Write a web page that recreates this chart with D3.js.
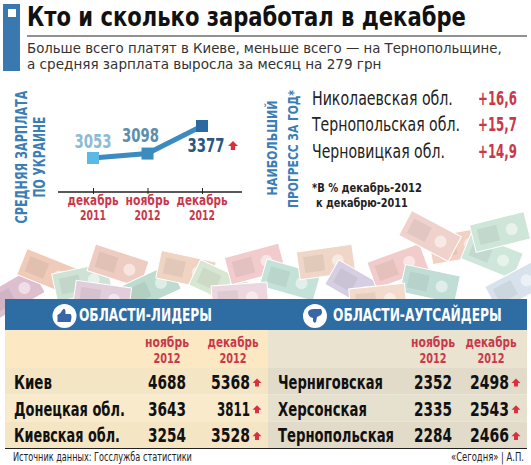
<!DOCTYPE html>
<html>
<head>
<meta charset="utf-8">
<script src="https://cdn.jsdelivr.net/npm/d3@7"></script>
<style>
  html, body { margin: 0; padding: 0; background: #fff; }
  svg { display: block; }
  .cond { font-family: "Liberation Sans Narrow", "DejaVu Sans Condensed", "Roboto Condensed", sans-serif; }
</style>
</head>
<body>
<svg id="chart" width="531" height="465"></svg>
<script>
// chart data
let months = ["декабрь|2011", "ноябрь|2012", "декабрь|2012"];
let avgSalary = [3053, 3098, 3377];

let progressRegions = ["Николаевская обл.", "Тернопольская обл.", "Черновицкая обл."];
let progressValues = [16.6, 15.7, 14.9];

let tableCols = ["ноябрь|2012", "декабрь|2012"];
let leaderRegions = ["Киев", "Донецкая обл.", "Киевская обл."];
let leaderNov = [4688, 3643, 3254];
let leaderDec = [5368, 3811, 3528];
let outsiderRegions = ["Черниговская", "Херсонская", "Тернопольская"];
let outsiderNov = [2352, 2335, 2284];
let outsiderDec = [2498, 2543, 2466];

let blue = "#2e6ca4";
let red = "#c9384a";
let svg = d3.select("#chart");

// text squeezed horizontally to a target width (the original uses a condensed face)
let txt = function(g, x, y, s, o) {
    o = o || {};
    let t = g.append("text")
        .attr("class", "cond")
        .attr("x", 0).attr("y", 0)
        .attr("font-size", o.size || 14)
        .attr("font-weight", o.weight || "normal")
        .attr("fill", o.fill || "#111")
        .attr("text-anchor", o.anchor || "start")
        .text(s);
    let k = 1;
    if (o.len) {
        let w = t.node().getComputedTextLength();
        if (w > 0) k = o.len / w;
    }
    t.attr("transform", "translate(" + x + "," + y + ")" + (o.rot ? " rotate(-90)" : "") + " scale(" + k + ",1)");
    return t;
};

let arrow = function(g, x, y, s) {
    s = s || 1;
    g.append("path")
        .attr("transform", "translate(" + x + "," + y + ") scale(" + s + ")")
        .attr("d", "M0,-5 L5,0 L2.2,0 L2.2,4 L-2.2,4 L-2.2,0 L-5,0 Z")
        .attr("fill", "#d8303c");
};

// ---- heading ----
svg.append("rect").attr("x", 3).attr("y", 4).attr("width", 17).attr("height", 67).attr("fill", "#3a78b0");
svg.append("rect").attr("x", 8).attr("y", 9).attr("width", 8).attr("height", 8).attr("fill", "#fff");
txt(svg, 27, 26, "Кто и сколько заработал в декабре", {size: 27, weight: "bold", len: 439});
svg.append("line").attr("x1", 27).attr("x2", 527).attr("y1", 36).attr("y2", 36)
    .attr("stroke", "#222").attr("stroke-width", 1);
txt(svg, 27, 53, "Больше всего платят в Киеве, меньше всего — на Тернопольщине,", {size: 13.5, fill: "#333", len: 475});
txt(svg, 27, 69, "а средняя зарплата выросла за месяц на 279 грн", {size: 13.5, fill: "#333", len: 355});

// ---- average salary line ----
let lc = svg.append("g");
txt(lc, 27, 157, "СРЕДНЯЯ ЗАРПЛАТА", {size: 15, weight: "bold", fill: "#3b7db5", anchor: "middle", rot: true, len: 133});
txt(lc, 45, 157, "ПО УКРАИНЕ", {size: 15, weight: "bold", fill: "#3b7db5", anchor: "middle", rot: true, len: 81});

let x = d3.scalePoint().domain(months).range([93, 202]);
let y = d3.scaleLinear().domain([3053, 3377]).range([158, 126]);

let axis = lc.append("g").attr("transform", "translate(0,192)")
    .call(d3.axisBottom(x).tickSize(4).tickFormat(""));
axis.select(".domain").remove();
axis.selectAll(".tick line").attr("stroke", "#222").attr("y1", -4).attr("y2", 2);
lc.append("line").attr("x1", 58).attr("x2", 242).attr("y1", 192).attr("y2", 192)
    .attr("stroke", "#222").attr("stroke-width", 1.3);

let monthLens = [51, 44, 51];
months.forEach(function(m, i) {
    let p = m.split("|");
    txt(lc, x(m), 205, p[0], {size: 14, weight: "bold", fill: red, anchor: "middle", len: monthLens[i]});
    txt(lc, x(m), 220, p[1], {size: 14, weight: "bold", fill: red, anchor: "middle", len: 26});
});

let line = d3.line().x(function(d, i) { return x(months[i]); }).y(function(d) { return y(d); });
lc.append("path").datum(avgSalary).attr("d", line)
    .attr("fill", "none").attr("stroke", "#3b8bc0").attr("stroke-width", 5);

let sqColors = ["#5bb9e7", "#3a8cbf", "#2a69a2"];
let lblColors = ["#8cbbd5", "#5d8eab", "#2b5680"];
let lblDx = [0, -7, 4];
let lblDy = [-10, -12, 26];
lc.selectAll("rect.pt").data(avgSalary).enter().append("rect")
    .attr("class", "pt")
    .attr("x", function(d, i) { return x(months[i]) - 6; })
    .attr("y", function(d) { return y(d) - 6; })
    .attr("width", 12).attr("height", 12)
    .attr("fill", function(d, i) { return sqColors[i]; });
avgSalary.forEach(function(v, i) {
    txt(lc, x(months[i]) + lblDx[i], y(v) + lblDy[i], String(v),
        {size: 19, weight: "bold", fill: lblColors[i], anchor: "middle", len: 37});
});
arrow(lc, x(months[2]) + 31, y(avgSalary[2]) + 20, 1);

// ---- biggest progress ----
let pg = svg.append("g");
txt(pg, 277, 148, "НАИБОЛЬШИЙ", {size: 14, weight: "bold", fill: "#3b7db5", anchor: "middle", rot: true, len: 95});
txt(pg, 298, 149, "ПРОГРЕСС ЗА ГОД*", {size: 14, weight: "bold", fill: "#3b7db5", anchor: "middle", rot: true, len: 118});
let py = d3.scaleBand().domain(d3.range(progressRegions.length)).range([86, 165]);
let regLens = [141, 148, 133];
progressRegions.forEach(function(r, i) {
    txt(pg, 312, py(i) + 19, r, {size: 19, fill: "#222", len: regLens[i]});
    txt(pg, 517, py(i) + 19, "+" + String(progressValues[i]).replace(".", ","),
        {size: 19, weight: "bold", fill: red, anchor: "end", len: 39});
});
txt(pg, 312, 192, "*В % декабрь-2012", {size: 13, weight: "bold", fill: "#222", len: 110});
txt(pg, 316, 207, "к декабрю-2011", {size: 13, weight: "bold", fill: "#222", len: 92});

// ---- banknotes strip (decoration) ----
let notes = [
    [14, 294, -30, "#d6b0c4"], [48, 272, 22, "#edbfa8"], [82, 282, -12, "#c2dccb"],
    [118, 266, 18, "#ecc0b2"], [150, 288, -25, "#add3c2"], [186, 270, 12, "#eccab4"],
    [220, 284, 25, "#cfe2c8"], [255, 264, -15, "#efbfc0"], [290, 280, 16, "#b7dbd0"],
    [326, 262, -8, "#ecccb8"], [356, 286, 30, "#cdc3dc"], [398, 266, -20, "#f0c0bd"],
    [430, 284, 12, "#b2d7cd"], [458, 246, -10, "#efc6b4"], [492, 256, 22, "#c4e0d1"],
    [516, 286, -28, "#cfdce8"], [102, 298, 8, "#dcc2d2"], [378, 300, -6, "#f0d2c0"],
    [430, 236, 28, "#edc8c0"], [500, 232, -14, "#c3e0cf"], [240, 298, -4, "#e8ccd8"]
];
let ng = svg.append("g").attr("opacity", 0.8);
notes.forEach(function(n) {
    let gn = ng.append("g").attr("transform", "translate(" + n[0] + "," + n[1] + ") rotate(" + n[2] + ")");
    gn.append("rect").attr("x", -28).attr("y", -14).attr("width", 56).attr("height", 28)
        .attr("fill", n[3]).attr("stroke", "#fff").attr("stroke-width", 1);
    gn.append("circle").attr("cx", 12).attr("cy", 0).attr("r", 6).attr("fill", "#fff").attr("opacity", 0.5);
    gn.append("rect").attr("x", -22).attr("y", -8).attr("width", 20).attr("height", 16)
        .attr("fill", d3.color(n[3]).darker(0.5)).attr("opacity", 0.45);
});

// ---- tables ----
let tb = svg.append("g");
tb.append("rect").attr("x", 5).attr("y", 299).attr("width", 522).attr("height", 31).attr("fill", blue);
tb.append("rect").attr("x", 5).attr("y", 330).attr("width", 263).attr("height", 38).attr("fill", "#fce9c3");
tb.append("rect").attr("x", 268).attr("y", 330).attr("width", 259).attr("height", 38).attr("fill", "#e9e3d0");

let ry = d3.scaleBand().domain(d3.range(3)).range([368, 448]);
let leftBg = ["#f4e5c5", "#f8eacb", "#f4e5c5"];
let rightBg = ["#e2dbc9", "#e6e0cf", "#e2dbc9"];
d3.range(3).forEach(function(i) {
    tb.append("rect").attr("x", 5).attr("y", ry(i)).attr("width", 263).attr("height", ry.bandwidth()).attr("fill", leftBg[i]);
    tb.append("rect").attr("x", 268).attr("y", ry(i)).attr("width", 259).attr("height", ry.bandwidth()).attr("fill", rightBg[i]);
});
tb.append("line").attr("x1", 5).attr("x2", 527).attr("y1", 448.5).attr("y2", 448.5).attr("stroke", "#222");

let icon = function(cx, down) {
    tb.append("circle").attr("cx", cx).attr("cy", 316).attr("r", 12).attr("fill", "#fff");
    let d = down
        ? "M-7,-4 Q-6,-7 -1,-7 L6,-7 Q8,-4 6,-1 L2,1 L1,6 Q-1,8 -2,5 L-2,2 Q-7,1 -7,-4 Z"
        : "M-7,6 L-7,-1 Q-4,-2 -2,-6 Q0,-9 1,-5 L1,-2 L6,-2 Q8,0 6,6 Z";
    tb.append("path").attr("transform", "translate(" + cx + ",316)").attr("d", d).attr("fill", "#3b66a6");
};
icon(64.5, false);
icon(315, true);
txt(tb, 79, 321, "ОБЛАСТИ-ЛИДЕРЫ", {size: 17, weight: "bold", fill: "#fff", len: 133});
txt(tb, 333, 321, "ОБЛАСТИ-АУТСАЙДЕРЫ", {size: 17, weight: "bold", fill: "#fff", len: 169});

let drawTable = function(regions, nov, dec, nameX, novX, decX, hdrX, nameLens) {
    tableCols.forEach(function(c, j) {
        let p = c.split("|");
        txt(tb, hdrX[j], 347, p[0], {size: 14, weight: "bold", fill: red, anchor: "middle", len: j ? 51 : 44});
        txt(tb, hdrX[j], 363, p[1], {size: 14, weight: "bold", fill: red, anchor: "middle", len: 27});
    });
    regions.forEach(function(r, i) {
        let by = ry(i) + 21;
        txt(tb, nameX, by, r, {size: 20, weight: "bold", fill: "#111", len: nameLens[i]});
        txt(tb, novX, by, String(nov[i]), {size: 20, weight: "bold", fill: "#111", anchor: "middle", len: 38});
        txt(tb, decX, by, String(dec[i]), {size: 20, weight: "bold", fill: "#111", anchor: "end", len: String(dec[i]).indexOf("11") > 0 ? 33 : 39});
        arrow(tb, decX + 7, by - 6, 0.9);
    });
};
drawTable(leaderRegions, leaderNov, leaderDec, 14, 167, 250, [167, 233], [38, 111, 106]);
drawTable(outsiderRegions, outsiderNov, outsiderDec, 278, 433, 509, [433, 491], [105, 89, 116]);

// ---- footer ----
txt(svg, 13, 461, "Источник данных: Госслужба статистики", {size: 12, fill: "#222", len: 179});
txt(svg, 524, 461, "«Сегодня» | А.П.", {size: 12, fill: "#222", anchor: "end", len: 73});
</script>
</body>
</html>
